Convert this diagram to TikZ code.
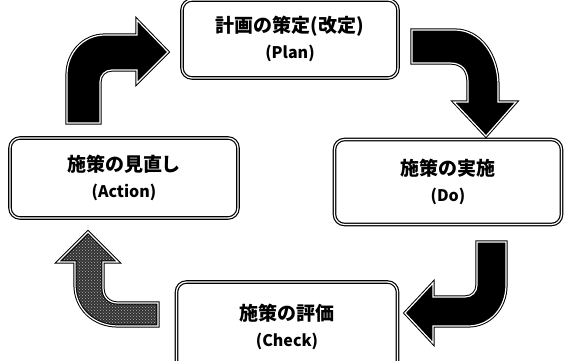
\documentclass[tikz,border=0pt]{standalone}
\usepackage{fontspec}
\setmainfont{Noto Sans CJK JP}
\usetikzlibrary{patterns}

\begin{document}
\begin{tikzpicture}[x=1pt, y=-1pt,
  stagebox/.style={draw, line width=1.2pt, double=white, double distance=1.2pt, rounded corners=10pt,
    align=center, font=\bfseries\fontsize{19}{22}\selectfont},
  blockarrow/.style={draw, line width=1pt, double=white, double distance=1.2pt, fill=black, line join=miter}]
  \useasboundingbox (0,0) rectangle (574,360);
  \clip (0,0) rectangle (574,360);
  % PDCA stages
  \foreach \n/\cx/\cy/\w/\h/\jp/\en in {plan/290/39/216/78/計画の策定(改定)/Plan,
      act/124/178/228/80/施策の見直し/Action, do/448/182/227/85/施策の実施/Do,
      chk/287/327/221/90/施策の評価/Check} {
    \node[stagebox, minimum width=\w pt, minimum height=\h pt] (\n) at (\cx,\cy)
      {\jp\\[4pt]{\fontsize{16}{19}\selectfont (\en)}};
  }
  % act -> plan
  \draw[blockarrow] (67,123) -- (67,75) .. controls (67,53) and (83,35) .. (105,35) -- (137,35) -- (137,20)
    -- (168,52) -- (137,83) -- (137,70) -- (112,70) .. controls (105,70) and (100,75) .. (100,82) -- (100,123) -- cycle;
  % plan -> do
  \draw[blockarrow] (412,30) -- (455,30) .. controls (480,30) and (498,55) .. (498,85) -- (498,102) -- (516,102)
    -- (486,136) -- (454,102) -- (468,102) -- (468,82) .. controls (468,70) and (462,63) .. (450,63) -- (412,63) -- cycle;
  % do -> chk
  \draw[blockarrow] (477,242) -- (506,242) -- (506,285) .. controls (506,308) and (490,326) .. (468,326) -- (433,326)
    -- (433,343) -- (405,313) -- (433,283) -- (433,297) -- (465,297) .. controls (472,297) and (477,292) .. (477,285) -- cycle;
  % chk -> act (stippled)
  \draw[blockarrow, preaction={fill=black!80}, pattern=crosshatch dots, pattern color=white!70!black]
    (158,303) -- (118,303) .. controls (109,303) and (103,297) .. (103,288) -- (103,262) -- (118,262) -- (88,232)
    -- (58,262) -- (75,262) -- (75,285) .. controls (75,308) and (93,326) .. (118,326) -- (158,326) -- cycle;
\end{tikzpicture}
\end{document}
